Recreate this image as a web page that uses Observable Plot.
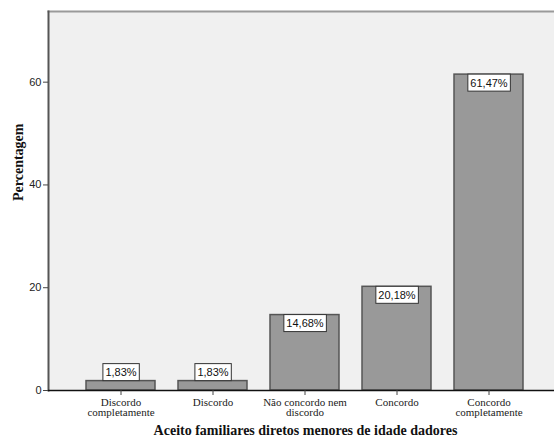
<!DOCTYPE html>
<html>
<head>
<meta charset="utf-8">
<script src="https://cdn.jsdelivr.net/npm/d3@7"></script>
<script src="https://cdn.jsdelivr.net/npm/@observablehq/plot@0.6"></script>
<style>
  html, body { margin: 0; padding: 0; background: #fff; }
  #chart { width: 554px; height: 443px; }
  g[aria-label="x-axis tick label"] { font-family: 'Liberation Serif', 'Times New Roman', serif; font-size: 11px; }
</style>
</head>
<body>
<div id="chart"></div>
<script>
const categories = ["Discordo completamente", "Discordo", "Não concordo nem discordo", "Concordo", "Concordo completamente"];
const tickLabels = ["Discordo\ncompletamente", "Discordo", "Não concordo nem\ndiscordo", "Concordo", "Concordo\ncompletamente"];
const values = [1.83, 1.83, 14.68, 20.18, 61.47];
const valueLabels = ["1,83%", "1,83%", "14,68%", "20,18%", "61,47%"];
const yTicks = [0, 20, 40, 60];
const yTitle = "Percentagem";
const xTitle = "Aceito familiares diretos menores de idade dadores";

const data = categories.map((c, i) => ({cat: c, value: values[i], label: valueLabels[i], tick: tickLabels[i]}));
const tickMap = new Map(data.map(d => [d.cat, d.tick]));
const tall = data.filter(d => d.value > 5);
const short = data.filter(d => d.value <= 5);

const sans = "'Liberation Sans', Arial, sans-serif";
const serif = "'Liberation Serif', 'Times New Roman', serif";

const chart = Plot.plot({
  width: 554,
  height: 443,
  marginTop: 11,
  marginBottom: 53,
  marginLeft: 48,
  marginRight: 0,
  style: {fontFamily: sans, fontSize: "11px", color: "#222", background: "#fff"},
  x: {domain: categories, paddingInner: 0.245, paddingOuter: 0.369, align: 0.56, label: null},
  y: {domain: [0, 73.75], label: null},
  marks: [
    Plot.frame({fill: "#f0f0f0", stroke: "none"}),
    Plot.frame({anchor: "top", stroke: "#9a9a9a", strokeWidth: 2}),
    Plot.frame({anchor: "left", stroke: "#555", strokeWidth: 2}),
    Plot.barY(data, {x: "cat", y: "value", fill: "#999999", stroke: "#555", strokeWidth: 1.5}),
    Plot.ruleY([0], {stroke: "#111", strokeWidth: 1.5}),
    Plot.axisY({ticks: yTicks, tickSize: 5, tickPadding: 2, label: null, fontSize: 11, stroke: "#444"}),
    Plot.axisX({tickSize: 5, tickPadding: 3, label: null, stroke: "#444", tickFormat: d => tickMap.get(d), lineHeight: 0.95}),
    Plot.text(tall, {x: "cat", y: "value", text: "label", dy: 8.5, fontSize: 11, fontFamily: sans, fill: "#111", className: "lbl"}),
    Plot.text(short, {x: "cat", y: "value", text: "label", dy: -8.5, fontSize: 11, fontFamily: sans, fill: "#111", className: "lbl"}),
    Plot.text([yTitle], {frameAnchor: "left", rotate: -90, dx: -30, fontSize: 14, fontWeight: "bold", fontFamily: serif, fill: "#111"}),
    Plot.text([xTitle], {frameAnchor: "bottom", dy: 44, dx: 4, fontSize: 14, fontWeight: "bold", fontFamily: serif, fill: "#111"})
  ]
});

document.getElementById("chart").appendChild(chart);

// Add white boxes behind value labels
chart.querySelectorAll("g.lbl text").forEach(t => {
  const b = t.getBBox();
  const r = document.createElementNS("http://www.w3.org/2000/svg", "rect");
  const padX = 2.5, boxH = 17;
  const cy = b.y + b.height / 2;
  r.setAttribute("x", b.x - padX);
  r.setAttribute("y", cy - boxH / 2);
  r.setAttribute("width", b.width + 2 * padX);
  r.setAttribute("height", boxH);
  r.setAttribute("fill", "#fff");
  r.setAttribute("stroke", "#333");
  r.setAttribute("stroke-width", 1);
  const tr = t.getAttribute("transform");
  if (tr) r.setAttribute("transform", tr);
  t.parentNode.insertBefore(r, t);
});
</script>
</body>
</html>
